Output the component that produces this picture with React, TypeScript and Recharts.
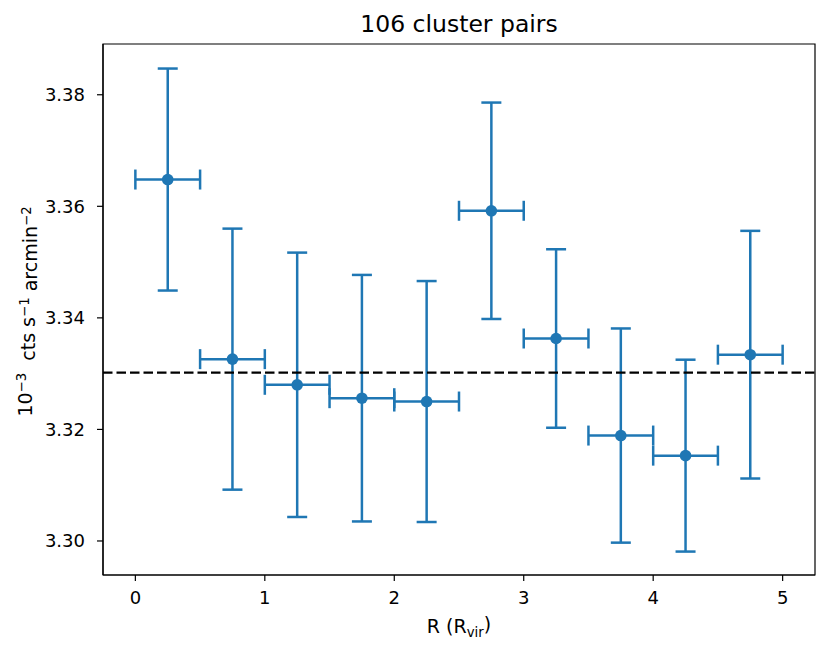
import { ComposedChart, ErrorBar, Label, ReferenceArea, ReferenceLine, Scatter, XAxis, YAxis } from "recharts";

// ── Data ──────────────────────────────────────────────────────────────────────
const BIN_CENTRES = [0.25, 0.75, 1.25, 1.75, 2.25, 2.75, 3.25, 3.75, 4.25, 4.75];
const BIN_HALF_WIDTHS = [0.25, 0.25, 0.25, 0.25, 0.25, 0.25, 0.25, 0.25, 0.25, 0.25];
const SURFACE_BRIGHTNESS = [3.3648, 3.3326, 3.328, 3.3256, 3.325, 3.3592, 3.3363, 3.3189, 3.3153, 3.3334];
const SB_ERRORS = [0.0199, 0.0234, 0.0237, 0.0221, 0.0216, 0.0194, 0.016, 0.0192, 0.0172, 0.0222];
const MEAN_LEVEL = 3.3302;
const X_TICKS = [0, 1, 2, 3, 4, 5];
const Y_TICKS = [3.3, 3.32, 3.34, 3.36, 3.38];
const X_DOMAIN = [-0.25, 5.25];
const Y_DOMAIN = [3.2939, 3.3891];

const points = BIN_CENTRES.map((x, i) => ({
  x,
  y: SURFACE_BRIGHTNESS[i],
  xErr: BIN_HALF_WIDTHS[i],
  yErr: SB_ERRORS[i],
}));

// ── Theme ─────────────────────────────────────────────────────────────────────
const BLUE = "#1f77b4";
const FONT = "DejaVu Sans";
const TICK = { fill: "#000", fontSize: 18, fontFamily: FONT };

function Dot(props: any) {
  return <circle cx={props.cx} cy={props.cy} r={5.8} fill={BLUE} />;
}

function YLabel({ viewBox }: any) {
  const x = viewBox.x - 1;
  const y = viewBox.y + viewBox.height / 2 + 2;
  return (
    <text
      x={x}
      y={y}
      transform={`rotate(-90, ${x}, ${y})`}
      textAnchor="middle"
      fontFamily={FONT}
      fontSize={19}
      fill="#000"
      style={{ whiteSpace: "pre" }}
    >
      <tspan>10</tspan>
      <tspan dy="-0.45em" fontSize={13.3}>−3</tspan>
      <tspan dy="0.45em">{"  cts s"}</tspan>
      <tspan dy="-0.45em" fontSize={13.3}>−1</tspan>
      <tspan dy="0.45em">{" arcmin"}</tspan>
      <tspan dy="-0.45em" fontSize={13.3}>−2</tspan>
    </text>
  );
}

function XLabel({ viewBox }: any) {
  const x = viewBox.x + viewBox.width / 2;
  const y = viewBox.y + 58;
  return (
    <text x={x} y={y} textAnchor="middle" fontFamily={FONT} fontSize={19} fill="#000">
      <tspan>R (R</tspan>
      <tspan dy="0.3em" fontSize={13.3}>vir</tspan>
      <tspan dy="-0.3em">)</tspan>
    </text>
  );
}

function Title({ viewBox }: any) {
  return (
    <text
      x={viewBox.x + viewBox.width / 2}
      y={viewBox.y - 12.5}
      textAnchor="middle"
      fontFamily={FONT}
      fontSize={23.5}
      fill="#000"
    >
      106 cluster pairs
    </text>
  );
}

export default function App() {
  return (
    <div style={{ position: "absolute", left: 0, top: 0, background: "#fff" }}>
      <ComposedChart width={830} height={651} margin={{ top: 44, right: 15, bottom: 36, left: 33 }}>
        <XAxis
          dataKey="x"
          type="number"
          domain={X_DOMAIN}
          ticks={X_TICKS}
          allowDataOverflow
          height={40}
          tick={TICK}
          tickSize={6}
          tickMargin={10}
          stroke="#000"
          strokeWidth={1.2}
        >
          <Label content={XLabel} />
        </XAxis>
        <YAxis
          dataKey="y"
          type="number"
          domain={Y_DOMAIN}
          ticks={Y_TICKS}
          allowDataOverflow
          width={70}
          tick={TICK}
          tickSize={6}
          tickMargin={12}
          tickFormatter={(v: number) => v.toFixed(2)}
          stroke="#000"
          strokeWidth={1.2}
        >
          <Label content={YLabel} />
        </YAxis>
        {/* frame around the axes, matplotlib style */}
        <ReferenceArea
          x1={X_DOMAIN[0]}
          x2={X_DOMAIN[1]}
          y1={Y_DOMAIN[0]}
          y2={Y_DOMAIN[1]}
          fill="none"
          fillOpacity={0}
          stroke="#000"
          strokeWidth={1.2}
          ifOverflow="visible"
        >
          <Label content={Title} />
        </ReferenceArea>
        <Scatter data={points} dataKey="y" fill={BLUE} shape={Dot} isAnimationActive={false}>
          <ErrorBar dataKey="yErr" direction="y" width={10} stroke={BLUE} strokeWidth={2.5} isAnimationActive={false} />
          <ErrorBar dataKey="xErr" direction="x" width={10} stroke={BLUE} strokeWidth={2.5} isAnimationActive={false} />
        </Scatter>
        <ReferenceLine y={MEAN_LEVEL} stroke="#000" strokeWidth={2.3} strokeDasharray="9.5 4" />
      </ComposedChart>
    </div>
  );
}
